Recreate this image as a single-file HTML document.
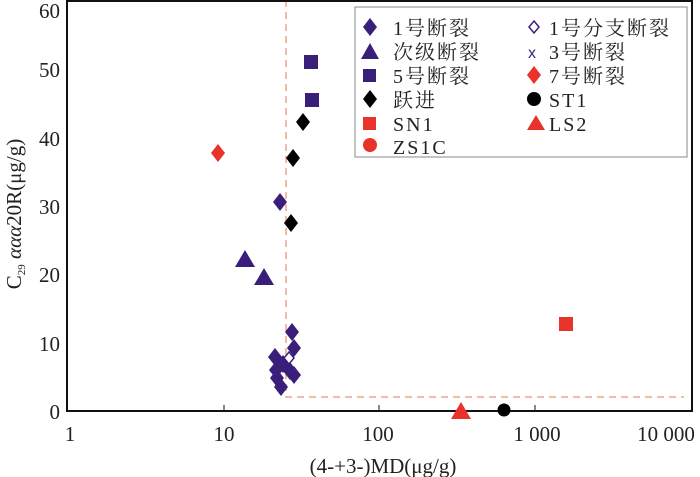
<!DOCTYPE html>
<html><head><meta charset="utf-8"><style>
html,body{margin:0;padding:0;background:#fff;}
svg{display:block;font-family:"Liberation Serif","Noto Serif CJK SC",serif;}
</style></head><body>
<svg width="700" height="477" viewBox="0 0 700 477" xmlns="http://www.w3.org/2000/svg">
<defs>
<path id="d" d="M0,-9 L7,0 L0,9 L-7,0Z"/>
</defs>
<rect x="0" y="0" width="700" height="477" fill="#fff"/>
<path d="M286,0 V397 H684" fill="none" stroke="#f4a08a" stroke-width="1.5" stroke-dasharray="7,5"/>
<rect x="67" y="1" width="625" height="410" fill="none" stroke="#111" stroke-width="2"/>
<g stroke="#111" stroke-width="1">
<line x1="224" y1="411" x2="224" y2="405"/><line x1="379" y1="411" x2="379" y2="405"/><line x1="535" y1="411" x2="535" y2="405"/>
</g>
<g font-size="21" fill="#222" text-anchor="end">
<text x="60" y="18">60</text><text x="60" y="77">50</text><text x="60" y="146">40</text><text x="60" y="214">30</text><text x="60" y="282">20</text><text x="60" y="351">10</text><text x="60" y="419">0</text>
</g>
<g font-size="21" fill="#222" text-anchor="middle">
<text x="70" y="441">1</text><text x="224" y="441">10</text><text x="378" y="441">100</text><text x="537" y="441">1 000</text><text x="666" y="441">10 000</text>
<text x="383" y="473">(4-+3-)MD(μg/g)</text>
</g>
<text transform="translate(21,214) rotate(-90)" font-size="21" fill="#222" text-anchor="middle">C<tspan font-size="11" dy="4">29</tspan><tspan dy="-4"> </tspan><tspan font-style="italic">ααα</tspan>20R(μg/g)</text>
<rect x="355" y="7" width="332" height="150" fill="#fff" stroke="#888" stroke-width="1"/>
<g font-size="20" fill="#222" letter-spacing="2">
<use href="#d" x="370" y="27" fill="#3a1f7a"/><text x="393" y="35">1号断裂</text>
<path d="M370,43 L379,59 L361,59Z" fill="#3a1f7a"/><text x="393" y="59">次级断裂</text>
<rect x="363" y="69" width="13" height="13" fill="#3a1f7a"/><text x="393" y="83">5号断裂</text>
<use href="#d" x="370" y="99" fill="#000"/><text x="393" y="107">跃进</text>
<rect x="363" y="117" width="13" height="13" fill="#e8322a"/><text x="393" y="131">SN1</text>
<circle cx="370" cy="145" r="7" fill="#e8322a"/><text x="393" y="154">ZS1C</text>
<path d="M534,21 L539,27 L534,33 L529,27Z" fill="none" stroke="#3a1f7a" stroke-width="1.5"/><text x="549" y="35">1号分支断裂</text>
<text x="528" y="58" font-size="16" fill="#3a1f7a" font-family="Liberation Sans,sans-serif" letter-spacing="0">x</text><text x="549" y="59">3号断裂</text>
<use href="#d" x="534" y="75" fill="#e8322a"/><text x="549" y="83">7号断裂</text>
<circle cx="534" cy="99" r="7" fill="#000"/><text x="549" y="107">ST1</text>
<path d="M536,115 L545,130 L527,130Z" fill="#e8322a"/><text x="549" y="131">LS2</text>
</g>
<use href="#d" x="218" y="153" fill="#e8322a"/>
<rect x="304" y="55" width="14" height="14" fill="#3a1f7a"/>
<rect x="305" y="93" width="14" height="14" fill="#3a1f7a"/>
<use href="#d" x="303" y="122" fill="#000"/>
<use href="#d" x="293" y="158" fill="#000"/>
<use href="#d" x="291" y="223" fill="#000"/>
<use href="#d" x="280" y="202" fill="#3a1f7a"/>
<path d="M245,250 L255,267 L235,267Z" fill="#3a1f7a"/>
<path d="M264,268 L274,285 L254,285Z" fill="#3a1f7a"/>
<g fill="#3a1f7a">
<use href="#d" x="292" y="332"/><use href="#d" x="294" y="348"/><use href="#d" x="275" y="357"/><use href="#d" x="276" y="370"/><use href="#d" x="277" y="378"/><use href="#d" x="281" y="387"/><use href="#d" x="290" y="371"/><use href="#d" x="294" y="375"/><use href="#d" x="283" y="364"/>
</g>
<path d="M289,352 L294,358 L289,364 L284,358Z" fill="#fff" stroke="#3a1f7a" stroke-width="1.5"/>
<rect x="559" y="317" width="14" height="14" fill="#e8322a"/>
<path d="M461,402 L471,419 L451,419Z" fill="#e8322a"/>
<circle cx="504" cy="410" r="6.5" fill="#000"/>
</svg>
</body></html>
